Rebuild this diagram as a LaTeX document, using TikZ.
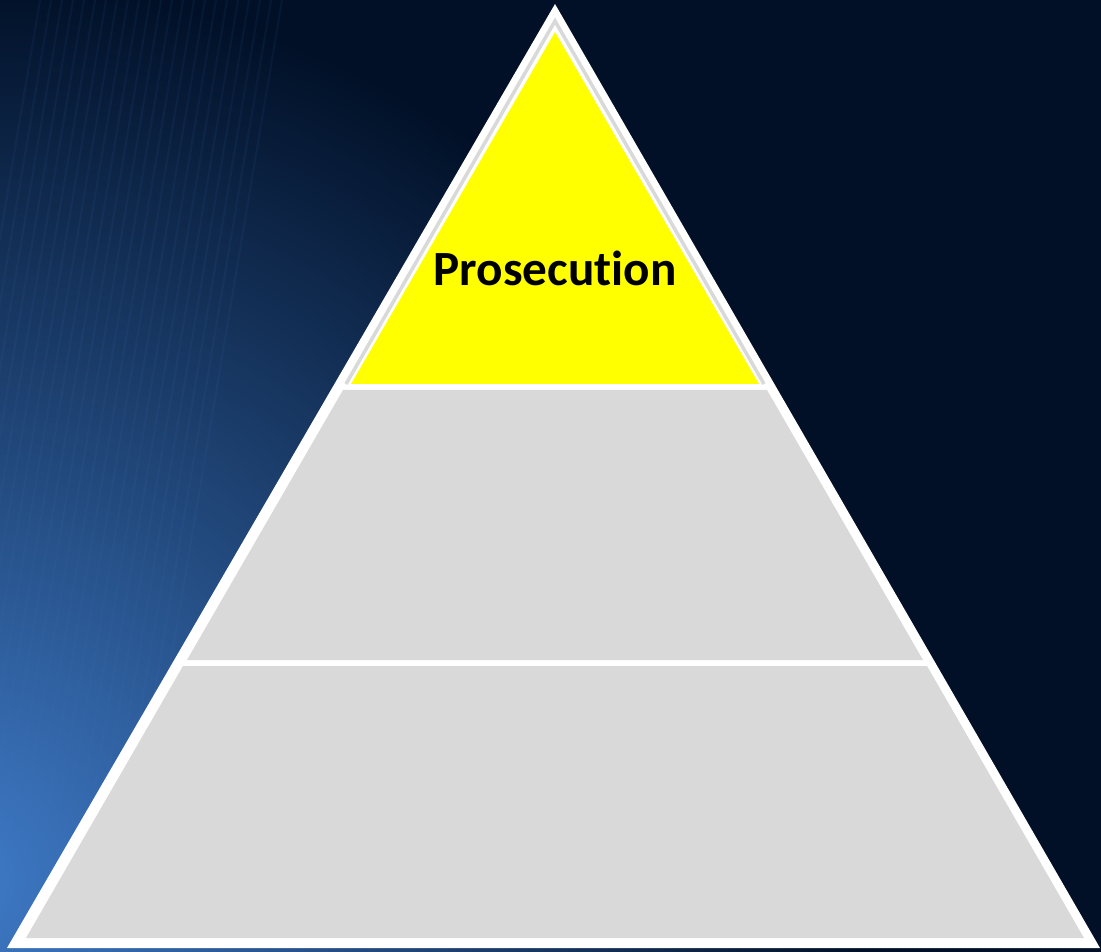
\documentclass[tikz,border=0pt]{standalone}
\usepackage{fontspec}
\setmainfont[Ligatures=NoCommon]{Carlito}
\usepackage{xcolor}
\usepackage{tikz}

\definecolor{navy}{HTML}{011027}
\definecolor{glow}{HTML}{3F7BC8}
\definecolor{tiergray}{HTML}{D9D9D9}
\definecolor{tieryellow}{HTML}{FFFF00}

\tikzset{
    tier/.style={fill=tiergray},
    label/.style={font=\bfseries\fontsize{28}{32}\selectfont, text=black}
}

\begin{document}
\begin{tikzpicture}[x=0.02cm,y=-0.02cm]
    \useasboundingbox (0,0) rectangle (1101,952);

    % background
    \fill[navy] (0,0) rectangle (1101,952);
    \begin{scope}
        \clip (0,0) rectangle (1101,952);
        \shade[inner color=glow, outer color=navy] (-40,880) circle (900);
        \foreach \i in {0,...,22}
            \draw[glow, opacity=0.08, line width=1.2pt] (\i*11-120,952) -- (\i*11+40,0);
    \end{scope}

    % outer white frame
    \fill[white] (555,4) -- (7,948) -- (1100,948) -- cycle;

    % top tier
    \fill[tieryellow] (555,32) -- (351,384) -- (759,384) -- cycle;
    \draw[tiergray, line width=2pt] (346,384) -- (555,21) -- (764,384);

    % middle and bottom tiers
    \fill[tier] (343,390) -- (187,660) -- (923,660) -- (767,390) -- cycle;
    \fill[tier] (183,666) -- (26,938) -- (1084,938) -- (927,666) -- cycle;

    \node[label] (prosecution) at (555,268) {Prosecution};
\end{tikzpicture}
\end{document}
